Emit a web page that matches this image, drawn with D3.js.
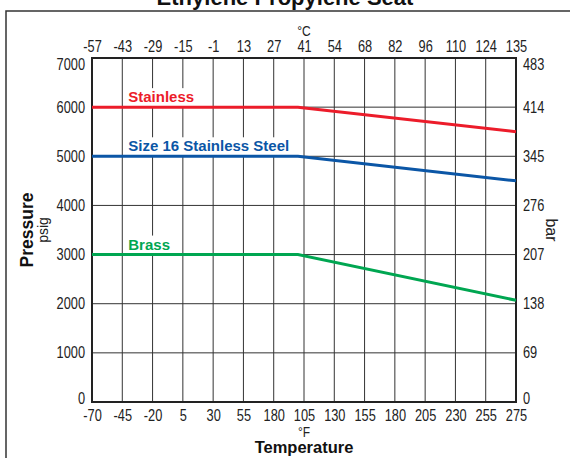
<!DOCTYPE html>
<html><head><meta charset="utf-8">
<script src="https://cdn.jsdelivr.net/npm/d3@7"></script>
<style>
html,body{margin:0;padding:0;background:#fff;}
svg{display:block;}
.tick text{font-family:"Liberation Sans",Arial,sans-serif;font-size:16px;fill:#222;}
</style></head>
<body>
<svg id="chart" width="570" height="458"></svg>
<script>
// Data
const title = "Ethylene Propylene Seat";
const tempF = [-70, -45, -20, 5, 30, 55, 80, 105, 130, 155, 180, 205, 230, 255, 275];
const tempFLabels = ["-70","-45","-20","5","30","55","180","105","130","155","180","205","230","255","275"];
const tempCLabels = ["-57","-43","-29","-15","-1","13","27","41","54","68","82","96","110","124","135"];
const psiTicks = [0, 1000, 2000, 3000, 4000, 5000, 6000, 7000];
const barLabels = ["0","69","138","207","276","345","414","483"];
const seriesNames = ["Stainless", "Size 16 Stainless Steel", "Brass"];
const seriesColors = ["#ec1c2a", "#0b56a6", "#00a651"];
const stainlessF = [-70, 100, 275];
const stainlessPsi = [6000, 6000, 5500];
const size16F = [-70, 100, 275];
const size16Psi = [5000, 5000, 4500];
const brassF = [-70, 100, 275];
const brassPsi = [3000, 3000, 2070];

const series = [
  {name: seriesNames[0], color: seriesColors[0], pts: stainlessF.map((f,i)=>[f, stainlessPsi[i]])},
  {name: seriesNames[1], color: seriesColors[1], pts: size16F.map((f,i)=>[f, size16Psi[i]])},
  {name: seriesNames[2], color: seriesColors[2], pts: brassF.map((f,i)=>[f, brassPsi[i]])}
];

const svg = d3.select("#chart");
const L = 92, R = 516, T = 58, B = 402;
const SX = 0.8; // condensed look for tick labels

// index-based x scale (tick spacing is uniform even though labels are not)
const xIdx = d3.scaleLinear().domain([0, tempF.length-1]).range([L, R]);
const fToIdx = d3.scaleLinear().domain(tempF).range(d3.range(tempF.length));
const x = f => xIdx(fToIdx(f));
const y = d3.scaleLinear().domain([0, 7000]).range([B, T]);

// Outer frame
svg.append("rect").attr("x", 6).attr("y", 11).attr("width", 600).attr("height", 500)
  .attr("fill", "none").attr("stroke", "#333").attr("stroke-width", 1.5);

// Title
svg.append("text").attr("x", 285).attr("y", 5).attr("text-anchor", "middle")
  .style("font-family", "Liberation Sans, Arial, sans-serif").style("font-weight", "bold")
  .style("font-size", "22px").attr("fill", "#111").text(title);

// Grid
const grid = svg.append("g");
grid.selectAll("line.v").data(d3.range(tempF.length)).join("line")
  .attr("x1", d => xIdx(d)).attr("x2", d => xIdx(d)).attr("y1", T).attr("y2", B)
  .attr("stroke", "#333").attr("stroke-width", 1);
grid.selectAll("line.h").data(psiTicks).join("line")
  .attr("x1", L).attr("x2", R).attr("y1", d => y(d)).attr("y2", d => y(d))
  .attr("stroke", "#333").attr("stroke-width", 1);

// Axes (labels only)
const idxTicks = d3.range(tempF.length);
const axB = svg.append("g").attr("transform", `translate(0,${B})`)
  .call(d3.axisBottom(xIdx).tickValues(idxTicks).tickSize(0).tickPadding(8).tickFormat((d,i)=>tempFLabels[i]));
const axT = svg.append("g").attr("transform", `translate(0,${T})`)
  .call(d3.axisTop(xIdx).tickValues(idxTicks).tickSize(0).tickPadding(6).tickFormat((d,i)=>tempCLabels[i]));
const axL = svg.append("g").attr("transform", `translate(${L},0)`)
  .call(d3.axisLeft(y).tickValues(psiTicks).tickSize(0).tickPadding(7).tickFormat(d3.format("d")));
const axR = svg.append("g").attr("transform", `translate(${R},0)`)
  .call(d3.axisRight(y).tickValues(psiTicks).tickSize(0).tickPadding(7).tickFormat((d,i)=>barLabels[i]));
[axB, axT, axL, axR].forEach(a => a.select(".domain").remove());
[axB, axT].forEach(a => a.selectAll(".tick text").attr("transform", `scale(${SX},1)`));
axL.selectAll(".tick text").attr("x", -7 / SX).attr("transform", `scale(${SX},1)`);
axR.selectAll(".tick text").attr("x", 7 / SX).attr("transform", `scale(${SX},1)`);
// end labels nudged inside, as in the original
[axL, axR].forEach(a => a.selectAll(".tick text")
  .attr("dy", d => d === 7000 ? "0.7em" : (d === 0 ? "0.1em" : "0.32em")));

// Plot border
svg.append("rect").attr("x", L).attr("y", T).attr("width", R-L).attr("height", B-T)
  .attr("fill", "none").attr("stroke", "#222").attr("stroke-width", 2);

// Series lines with labels
const line = d3.line().x(d => x(d[0])).y(d => y(d[1]));
series.forEach(s => {
  const ly = y(s.pts[0][1]);
  const bg = svg.append("rect").attr("fill", "#fff");
  const t = svg.append("text").attr("x", x(-45) + 6).attr("y", ly - 5)
    .style("font-family", "Liberation Sans, Arial, sans-serif").style("font-weight", "bold")
    .style("font-size", "15px").attr("fill", s.color).text(s.name);
  const bb = t.node().getBBox();
  bg.attr("x", bb.x - 1).attr("y", bb.y).attr("width", bb.width + 2).attr("height", ly - bb.y);
  svg.append("path").datum(s.pts).attr("d", line).attr("fill", "none")
    .attr("stroke", s.color).attr("stroke-width", 3);
});

// Axis titles
const sans = "Liberation Sans, Arial, sans-serif";
svg.append("text").attr("transform", `translate(${xIdx(7)},36) scale(${SX},1)`).attr("text-anchor", "middle")
  .style("font-family", sans).style("font-size", "15px").attr("fill", "#222").text("°C");
svg.append("text").attr("transform", `translate(${xIdx(7)},437) scale(${SX},1)`).attr("text-anchor", "middle")
  .style("font-family", sans).style("font-size", "15px").attr("fill", "#222").text("°F");
svg.append("text").attr("x", xIdx(7)).attr("y", 453).attr("text-anchor", "middle")
  .style("font-family", sans).style("font-weight", "bold")
  .style("font-size", "16.5px").attr("fill", "#111").text("Temperature");
svg.append("text").attr("transform", `translate(33,${(T+B)/2}) rotate(-90)`).attr("text-anchor", "middle")
  .style("font-family", sans).style("font-weight", "bold")
  .style("font-size", "17.5px").attr("fill", "#111").text("Pressure");
svg.append("text").attr("transform", `translate(48,${(T+B)/2}) rotate(-90)`).attr("text-anchor", "middle")
  .style("font-family", sans)
  .style("font-size", "14px").attr("fill", "#222").text("psig");
svg.append("text").attr("transform", `translate(546,${(T+B)/2}) rotate(90)`).attr("text-anchor", "middle")
  .style("font-family", sans)
  .style("font-size", "16px").attr("fill", "#222").text("bar");
</script>
</body></html>
